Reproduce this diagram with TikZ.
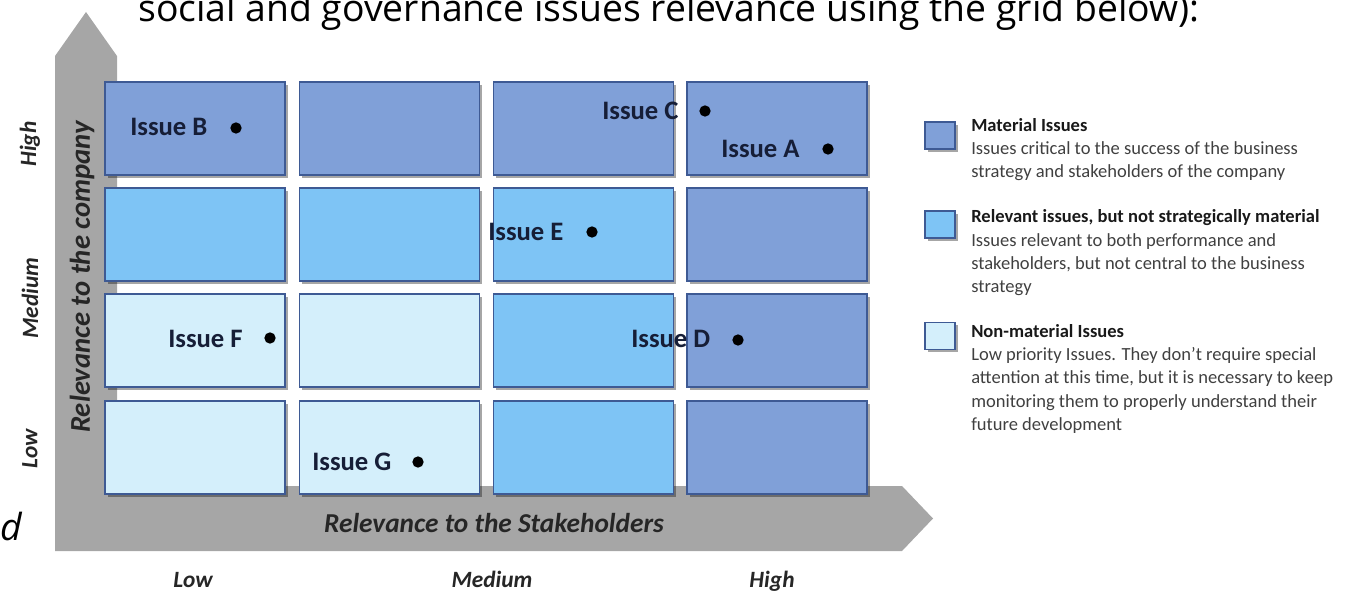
\documentclass[tikz,border=0pt]{standalone}
\usepackage{fontspec}
\setmainfont{Carlito}
\newfontfamily\titlefont{Open Sans}
\usetikzlibrary{shadows}

\definecolor{material}{RGB}{128,160,216}
\definecolor{relevant}{RGB}{126,196,245}
\definecolor{nonmat}{RGB}{212,239,251}
\definecolor{cellborder}{RGB}{62,90,148}
\definecolor{arrowgray}{RGB}{166,166,166}
\definecolor{issuetext}{RGB}{22,30,55}
\definecolor{legtext}{RGB}{64,64,64}

\tikzset{
  cell/.style={draw=cellborder, line width=1.1pt, minimum width=135pt,
    minimum height=69.75pt, inner sep=0pt,
    drop shadow={shadow xshift=2pt, shadow yshift=-2pt, opacity=0.35, fill=black}},
  issue/.style={anchor=base west, inner sep=0pt,
    font=\fontsize{20}{24}\selectfont\bfseries, text=issuetext},
  dotmark/.style={circle, fill=black, inner sep=0pt, minimum size=8.5pt},
  axislabel/.style={inner sep=0pt, font=\fontsize{20.5}{24}\selectfont\bfseries\itshape, text=black!85},
  levellabel/.style={inner sep=0pt, font=\fontsize{17.5}{20}\selectfont\bfseries\itshape, text=black!85},
  legsq/.style={draw=cellborder, line width=1pt, minimum width=22.5pt,
    minimum height=20.25pt, inner sep=0pt,
    drop shadow={shadow xshift=2pt, shadow yshift=-2pt, opacity=0.35, fill=black}},
  leghead/.style={anchor=base west, inner sep=0pt,
    font=\fontsize{13.9}{16}\selectfont\bfseries, text=black!90},
  legbody/.style={anchor=base west, inner sep=0pt,
    font=\fontsize{13.9}{16}\selectfont, text=legtext},
}

\begin{document}
\begin{tikzpicture}[x=0.75pt, y=-0.75pt]
\useasboundingbox (0,0) rectangle (1355,591);
\begin{scope}
\clip (0,0) rectangle (1355,591);

% heading line running off the top edge
\node[anchor=base west, inner sep=0pt, font=\titlefont\fontsize{28}{32}\selectfont]
  (title) at (138,22) {social and governance issues relevance using the grid below):};
\node[anchor=base west, inner sep=0pt, font=\titlefont\itshape\fontsize{28}{32}\selectfont]
  (frag) at (0,540) {d};

% L-shaped axis arrows
\fill[arrowgray] (55,551) -- (55,56) -- (86,12) -- (117,56) -- (117,486)
  -- (902,486) -- (933,518.5) -- (902,551) -- cycle;

% grid of cells (columns: stakeholders, rows: company)
\node[cell, fill=material] (c11) at (195,128.5) {};
\node[cell, fill=material] (c12) at (389.5,128.5) {};
\node[cell, fill=material] (c13) at (583.5,128.5) {};
\node[cell, fill=material] (c14) at (777,128.5) {};
\node[cell, fill=relevant] (c21) at (195,234.5) {};
\node[cell, fill=relevant] (c22) at (389.5,234.5) {};
\node[cell, fill=relevant] (c23) at (583.5,234.5) {};
\node[cell, fill=material] (c24) at (777,234.5) {};
\node[cell, fill=nonmat]   (c31) at (195,340.5) {};
\node[cell, fill=nonmat]   (c32) at (389.5,340.5) {};
\node[cell, fill=relevant] (c33) at (583.5,340.5) {};
\node[cell, fill=material] (c34) at (777,340.5) {};
\node[cell, fill=nonmat]   (c41) at (195,447.5) {};
\node[cell, fill=nonmat]   (c42) at (389.5,447.5) {};
\node[cell, fill=relevant] (c43) at (583.5,447.5) {};
\node[cell, fill=material] (c44) at (777,447.5) {};

% issues
\node[issue] (tB) at (130,136) {Issue B};
\node[dotmark] (dB) at (236,128) {};
\node[issue] (tC) at (602,120) {Issue C};
\node[dotmark] (dC) at (705,111) {};
\node[issue] (tA) at (721,158) {Issue A};
\node[dotmark] (dA) at (828,149) {};
\node[issue] (tE) at (488,241) {Issue E};
\node[dotmark] (dE) at (592,232) {};
\node[issue] (tF) at (168,347) {Issue F};
\node[dotmark] (dF) at (270,338) {};
\node[issue] (tD) at (631,348) {Issue D};
\node[dotmark] (dD) at (738,340) {};
\node[issue] (tG) at (312,470) {Issue G};
\node[dotmark] (dG) at (418,462) {};

% axis titles
\node[axislabel, rotate=90, font=\fontsize{21.5}{24}\selectfont\bfseries\itshape] (ycap) at (82,277) {Relevance to the company};
\node[axislabel] (xcap) at (494,523) {Relevance to the Stakeholders};

% level labels
\node[levellabel, rotate=90] (yH) at (30,144) {High};
\node[levellabel, rotate=90] (yM) at (30,298) {Medium};
\node[levellabel, rotate=90] (yL) at (30,449) {Low};
\node[levellabel, anchor=base] (xL) at (193,587) {Low};
\node[levellabel, anchor=base] (xM) at (492,587) {Medium};
\node[levellabel, anchor=base] (xH) at (772,587) {High};

% legend
\node[legsq, fill=material] (k1) at (940,135.5) {};
\node[leghead] (k1h) at (971,132) {Material Issues};
\node[legbody] (k1a) at (971,155) {Issues critical to the success of the business};
\node[legbody] (k1b) at (971,178) {strategy and stakeholders of the company};

\node[legsq, fill=relevant] (k2) at (940,224.5) {};
\node[leghead] (k2h) at (971,223) {Relevant issues, but not strategically material};
\node[legbody] (k2a) at (971,247) {Issues relevant to both performance and};
\node[legbody] (k2b) at (971,270) {stakeholders, but not central to the business};
\node[legbody] (k2c) at (971,293) {strategy};

\node[legsq, fill=nonmat] (k3) at (940,336) {};
\node[leghead] (k3h) at (971,337) {Non-material Issues};
\node[legbody] (k3a) at (971,360) {Low priority Issues. They don’t require special};
\node[legbody] (k3b) at (971,383) {attention at this time, but it is necessary to keep};
\node[legbody] (k3c) at (971,407) {monitoring them to properly understand their};
\node[legbody] (k3d) at (971,430) {future development};
\end{scope}
\end{tikzpicture}
\end{document}
